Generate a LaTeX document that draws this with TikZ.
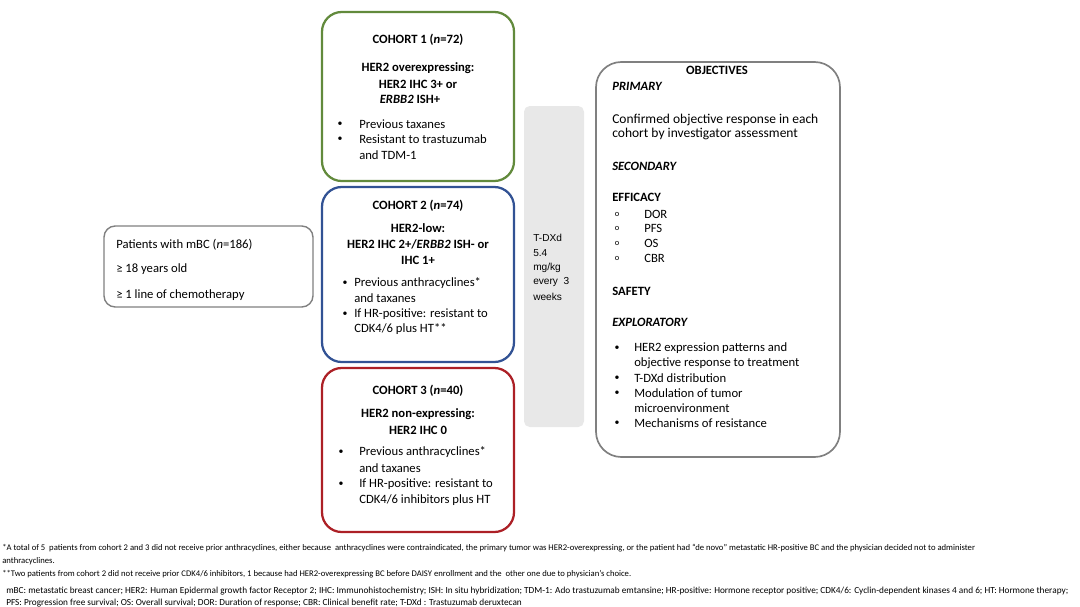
\documentclass[tikz,border=0pt]{standalone}
\usepackage{fontspec}
\setmainfont{Carlito}
\newfontfamily\arialfont{Liberation Sans}
\usetikzlibrary{positioning}

\definecolor{cohortgreen}{RGB}{98,138,60}
\definecolor{cohortblue}{RGB}{50,82,148}
\definecolor{cohortred}{RGB}{172,32,38}
\definecolor{framegray}{RGB}{128,128,128}
\definecolor{bargray}{RGB}{232,232,232}

\tikzset{
  cohortframe/.style={line width=1.6pt, rounded corners=14pt},
  body/.style={inner sep=0pt, font=\fontsize{9}{11}\selectfont},
  dot/.style={inner sep=0pt, font=\fontsize{7}{8}\selectfont},
  head/.style={body, font=\fontsize{9}{11}\selectfont\bfseries},
  ltext/.style={body, anchor=west},
  lhead/.style={head, anchor=west},
  note/.style={inner sep=0pt, anchor=west, font=\fontsize{6.15}{7}\selectfont},
  abbrev/.style={inner sep=0pt, anchor=west, font=\fontsize{6.6}{8}\selectfont},
}

\begin{document}
\begin{tikzpicture}[x=0.025cm,y=-0.025cm]
  \useasboundingbox (0,0) rectangle (1080,606);

  % frames
  \draw[cohortgreen, cohortframe] (322,12) rectangle (514,181);
  \draw[cohortblue, cohortframe] (322,187) rectangle (514,362);
  \draw[cohortred, cohortframe] (322,368) rectangle (514,532);
  \draw[framegray, line width=1pt, rounded corners=8pt] (104,226) rectangle (313,307);
  \fill[bargray, rounded corners=4pt] (524,106) rectangle (584,427);
  \draw[framegray, line width=1.2pt, rounded corners=18pt] (596,62) rectangle (840,457);

  % patients
  \node[ltext] (pat1) at (116,245) {Patients with mBC (\textit{n}=186)};
  \node[ltext] (pat2) at (116,269) {≥ 18 years old};
  \node[ltext] (pat3) at (116,295) {≥ 1 line of chemotherapy};

  % cohort 1
  \node[head] (c1title) at (418,40) {COHORT 1 (\textit{n}=72)};
  \node[head] (c1sub1) at (418,68) {HER2 overexpressing:};
  \node[head] (c1sub2) at (418,84) {HER2 IHC 3+ or};
  \node[head] (c1sub3) at (410,99) {\textit{ERBB2} ISH+};
  \node[dot] (c1b1) at (340,124) {\textbullet};
  \node[ltext] (c1t1) at (359,124) {Previous taxanes};
  \node[dot] (c1b2) at (340,139) {\textbullet};
  \node[ltext] (c1t2) at (359,139) {Resistant to trastuzumab};
  \node[ltext] (c1t3) at (359,155) {and TDM-1};

  % cohort 2
  \node[head] (c2title) at (418,206) {COHORT 2 (\textit{n}=74)};
  \node[head] (c2sub1) at (418,228) {HER2-low:};
  \node[head] (c2sub2) at (418,244) {HER2 IHC 2+/\textit{ERBB2} ISH- or};
  \node[head] (c2sub3) at (418,260) {IHC 1+};
  \node[dot] (c2b1) at (345,283) {\textbullet};
  \node[ltext] (c2t1) at (354,283) {Previous anthracyclines*};
  \node[ltext] (c2t2) at (354,298) {and taxanes};
  \node[dot] (c2b2) at (345,314) {\textbullet};
  \node[ltext] (c2t3) at (354,314) {If HR-positive: resistant to};
  \node[ltext] (c2t4) at (354,329) {CDK4/6 plus HT**};

  % cohort 3
  \node[head] (c3title) at (418,391) {COHORT 3 (\textit{n}=40)};
  \node[head] (c3sub1) at (418,414) {HER2 non-expressing:};
  \node[head] (c3sub2) at (418,430) {HER2 IHC 0};
  \node[dot] (c3b1) at (341,452) {\textbullet};
  \node[ltext] (c3t1) at (359,452) {Previous anthracyclines*};
  \node[ltext] (c3t2) at (359,468) {and taxanes};
  \node[dot] (c3b2) at (341,484) {\textbullet};
  \node[ltext] (c3t3) at (359,484) {If HR-positive: resistant to};
  \node[ltext] (c3t4) at (359,500) {CDK4/6 inhibitors plus HT};

  % treatment
  \foreach \ty/\txt [count=\i] in {238/T-DXd, 253/5.4, 268/{mg/kg}, 282/every~ 3, 297/weeks}
    \node[inner sep=0pt, anchor=west, font=\arialfont\fontsize{7.2}{9}\selectfont] (dose\i) at (533,\ty) {\txt};

  % objectives
  \node[head] (objtitle) at (717,70) {OBJECTIVES};
  \node[lhead] (primary) at (612,86) {\textit{PRIMARY}};
  \node[ltext, font=\fontsize{9.6}{11}\selectfont] (prim1) at (612,120) {Confirmed objective response in each};
  \node[ltext, font=\fontsize{9.6}{11}\selectfont] (prim2) at (612,134) {cohort by investigator assessment};
  \node[lhead] (secondary) at (612,166) {\textit{SECONDARY}};
  \node[lhead] (efficacy) at (612,197) {EFFICACY};
  \foreach \ty/\txt [count=\i] in {214/DOR, 228/PFS, 243/OS, 258/CBR} {
    \node[body, font=\fontsize{6}{7}\selectfont] (effo\i) at (617,\ty) {o};
    \node[ltext] (eff\i) at (644,\ty) {\txt};
  }
  \node[lhead] (safety) at (612,291) {SAFETY};
  \node[lhead] (explor) at (612,322) {\textit{EXPLORATORY}};
  \foreach \ty [count=\i] in {348,378,393,423}
    \node[dot] (expb\i) at (617,\ty) {\textbullet};
  \foreach \ty/\txt [count=\i] in {348/HER2 expression patterns and, 363/objective response to treatment,
      378/T-DXd distribution, 393/Modulation of tumor, 408/microenvironment, 423/Mechanisms of resistance}
    \node[ltext] (exp\i) at (634,\ty) {\txt};

  % footnotes
  \node[note] (fn1) at (2,548) {*A total of 5~ patients from cohort 2 and 3 did not receive prior anthracyclines, either because~ anthracyclines were contraindicated, the primary tumor was HER2-overexpressing, or the patient had “de novo” metastatic HR-positive BC and the physician decided not to administer};
  \node[note] (fn2) at (2,561) {anthracyclines.};
  \node[note] (fn3) at (2,574) {**Two patients from cohort 2 did not receive prior CDK4/6 inhibitors, 1 because had HER2-overexpressing BC before DAISY enrollment and the~ other one due to physician’s choice.};
  \node[abbrev] (ab1) at (6,591) {mBC: metastatic breast cancer; HER2: Human Epidermal growth factor Receptor 2; IHC: Immunohistochemistry; ISH: In situ hybridization; TDM-1: Ado trastuzumab emtansine; HR-positive: Hormone receptor positive; CDK4/6: Cyclin-dependent kinases 4 and 6; HT: Hormone therapy;};
  \node[abbrev] (ab2) at (6,603) {PFS: Progression free survival; OS: Overall survival; DOR: Duration of response; CBR: Clinical benefit rate; T-DXd : Trastuzumab deruxtecan};
\end{tikzpicture}
\end{document}
